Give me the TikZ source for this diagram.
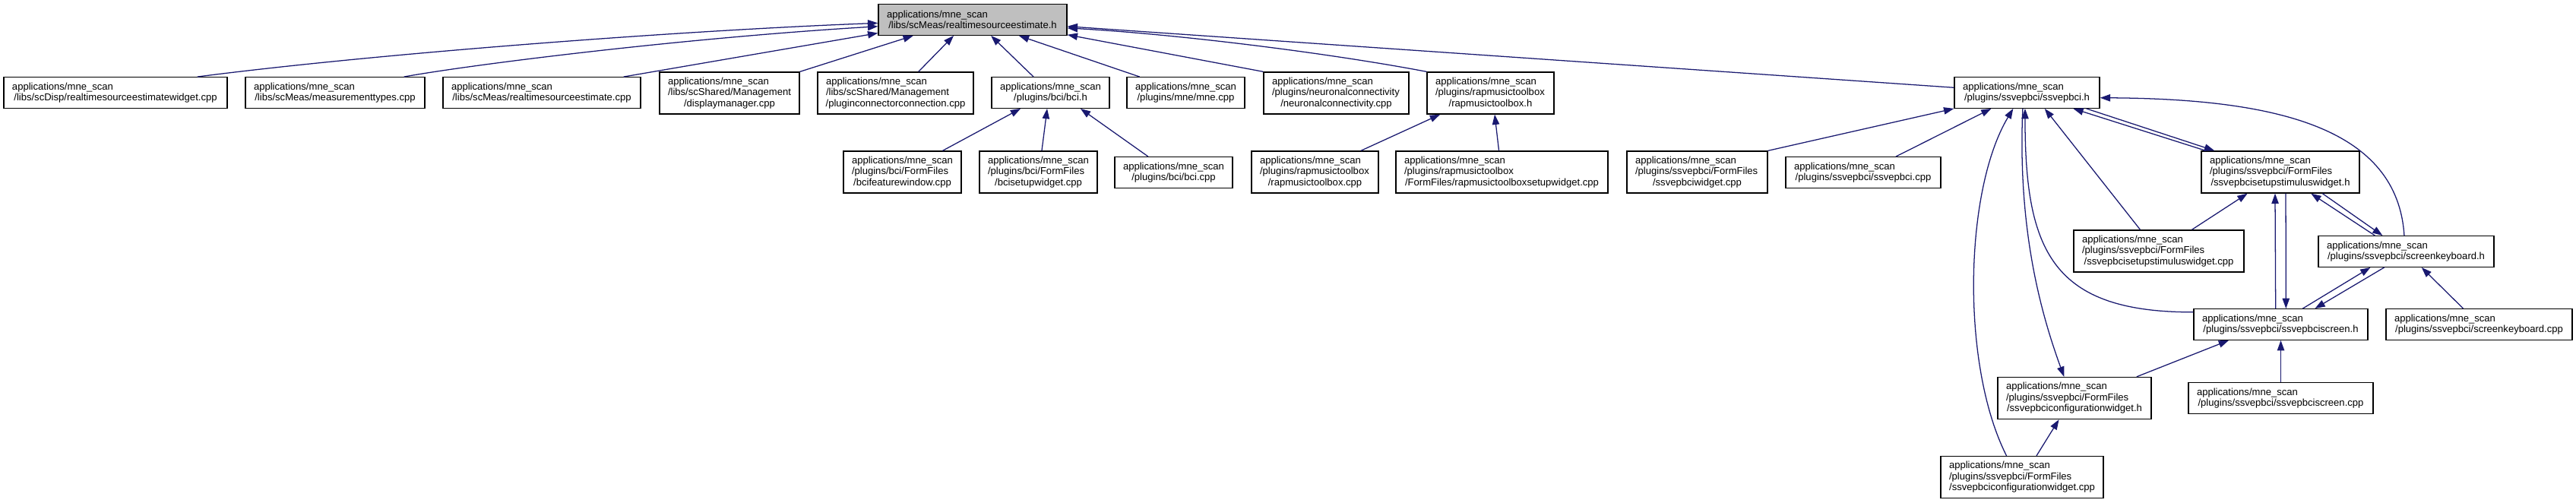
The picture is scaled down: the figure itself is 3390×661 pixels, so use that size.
\documentclass[tikz,border=0pt]{standalone}
\usepackage{fontspec}
\setmainfont{Liberation Sans}
\usetikzlibrary{arrows.meta}
\definecolor{edgeNavy}{RGB}{25,25,112}
\definecolor{rootGray}{RGB}{191,191,191}
\newcommand{\lastln}[1]{\makebox[\linewidth]{#1}}
\hyphenpenalty=10000
\exhyphenpenalty=10000

\begin{document}
\begin{tikzpicture}[x=0.75pt,y=-0.75pt,
    box/.style={draw=black,line width=1pt,fill=white,align=left,inner xsep=8.25pt,inner ysep=0pt,
      minimum height=30.4pt,font=\fontsize{9.8}{10.8}\selectfont},
    tallbox/.style={box,minimum height=41.25pt},
    arrow/.style={draw=edgeNavy,line width=0.95pt,-{Triangle[length=10pt,width=7pt]}}
  ]
  \path[use as bounding box,fill=white] (0,0) rectangle (3390,661);

  \node[box,fill=rootGray,text width=169.5pt] (main) at (1280,26) {applications/mne\_scan\\\lastln{/libs/scMeas/realtimesourceestimate.h}};

  \node[box,text width=204pt] (rsew) at (152,122) {applications/mne\_scan\\\lastln{/libs/scDisp/realtimesourceestimatewidget.cpp}};
  \node[box,text width=160.5pt] (mtypes) at (441,122) {applications/mne\_scan\\\lastln{/libs/scMeas/measurementtypes.cpp}};
  \node[box,text width=178.5pt] (rsecpp) at (713,122) {applications/mne\_scan\\\lastln{/libs/scMeas/realtimesourceestimate.cpp}};
  \node[tallbox,text width=121.5pt] (dispmgr) at (960,122.5) {applications/mne\_scan\\/libs/scShared/Management\\\lastln{/displaymanager.cpp}};
  \node[tallbox,text width=137.25pt] (plugconn) at (1178.5,122.5) {applications/mne\_scan\\/libs/scShared/Management\\\lastln{/pluginconnectorconnection.cpp}};
  \node[box,text width=99.75pt] (bcih) at (1382.5,122) {applications/mne\_scan\\\lastln{/plugins/bci/bci.h}};
  \node[box,text width=99.75pt] (mnecpp) at (1560.5,122) {applications/mne\_scan\\\lastln{/plugins/mne/mne.cpp}};
  \node[tallbox,text width=126.75pt] (neuro) at (1758.5,122.5) {applications/mne\_scan\\/plugins/neuronalconnectivity\\\lastln{/neuronalconnectivity.cpp}};
  \node[tallbox,text width=108.75pt] (rapmh) at (1961.5,122.5) {applications/mne\_scan\\/plugins/rapmusictoolbox\\\lastln{/rapmusictoolbox.h}};
  \node[box,text width=126.75pt] (ssvh) at (2667.5,122) {applications/mne\_scan\\\lastln{/plugins/ssvepbci/ssvepbci.h}};

  \node[tallbox,text width=99.75pt] (bcifw) at (1187.5,226.5) {applications/mne\_scan\\/plugins/bci/FormFiles\\\lastln{/bcifeaturewindow.cpp}};
  \node[tallbox,text width=99.75pt] (bcisw) at (1366.5,226.5) {applications/mne\_scan\\/plugins/bci/FormFiles\\\lastln{/bcisetupwidget.cpp}};
  \node[box,text width=99.75pt] (bcicpp) at (1544.5,227) {applications/mne\_scan\\\lastln{/plugins/bci/bci.cpp}};
  \node[tallbox,text width=108.75pt] (rapmcpp) at (1730.5,226.5) {applications/mne\_scan\\/plugins/rapmusictoolbox\\\lastln{/rapmusictoolbox.cpp}};
  \node[tallbox,text width=192.75pt] (rapmsw) at (1976.5,226.5) {applications/mne\_scan\\/plugins/rapmusictoolbox\\\lastln{/FormFiles/rapmusictoolboxsetupwidget.cpp}};
  \node[tallbox,text width=122.25pt] (ssvwidget) at (2233.5,226.5) {applications/mne\_scan\\/plugins/ssvepbci/FormFiles\\\lastln{/ssvepbciwidget.cpp}};
  \node[box,text width=136.5pt] (ssvcpp) at (2452,227) {applications/mne\_scan\\\lastln{/plugins/ssvepbci/ssvepbci.cpp}};
  \node[tallbox,text width=139.5pt] (stimh) at (3001,226.5) {applications/mne\_scan\\/plugins/ssvepbci/FormFiles\\\lastln{/ssvepbcisetupstimuluswidget.h}};

  \node[tallbox,text width=151.5pt] (stimcpp) at (2841,330.5) {applications/mne\_scan\\/plugins/ssvepbci/FormFiles\\\lastln{/ssvepbcisetupstimuluswidget.cpp}};
  \node[box,text width=156.75pt] (skbh) at (3166.5,331) {applications/mne\_scan\\\lastln{/plugins/ssvepbci/screenkeyboard.h}};

  \node[box,text width=155.25pt] (screenh) at (3001.5,427) {applications/mne\_scan\\\lastln{/plugins/ssvepbci/ssvepbciscreen.h}};
  \node[box,text width=167.25pt] (skbcpp) at (3262.5,427) {applications/mne\_scan\\\lastln{/plugins/ssvepbci/screenkeyboard.cpp}};

  \node[tallbox,text width=135pt] (confh) at (2730,524) {applications/mne\_scan\\/plugins/ssvepbci/FormFiles\\\lastln{/ssvepbciconfigurationwidget.h}};
  \node[box,text width=165.75pt] (screencpp) at (3001.5,524) {applications/mne\_scan\\\lastln{/plugins/ssvepbci/ssvepbciscreen.cpp}};

  \node[tallbox,text width=144pt] (confcpp) at (2661,628) {applications/mne\_scan\\/plugins/ssvepbci/FormFiles\\\lastln{/ssvepbciconfigurationwidget.cpp}};

  \draw[arrow] (rsew.11) .. controls (500,70) and (900,40) .. (main.182);
  \draw[arrow] (mtypes.13) .. controls (620,85) and (900,50) .. (main.184);
  \draw[arrow] (rsecpp.11) -- (main.188);
  \draw[arrow] (dispmgr.north east) -- (main.195);
  \draw[arrow] (plugconn.43) -- (main.220);
  \draw[arrow] (bcih.137) -- (main.319);
  \draw[arrow] (mnecpp.161) -- (main.341);
  \draw[arrow] (neuro.north west) -- (main.351);
  \draw[arrow] (rapmh.north west) .. controls (1750,70) and (1550,45) .. (main.355);
  \draw[arrow] (ssvh.176) -- (main.356);

  \draw[arrow] (bcifw.28) -- (bcih.208);
  \draw[arrow] (bcisw.81) -- (bcih.258);
  \draw[arrow] (bcicpp.148) -- (bcih.332);
  \draw[arrow] (rapmcpp.25) -- (rapmh.203);
  \draw[arrow] (rapmsw.98) -- (rapmh.281);

  \draw[arrow] (ssvwidget.north east) -- (ssvh.south west);
  \draw[arrow] (ssvcpp.26) -- (ssvh.204);
  \draw[arrow] (confcpp.126) .. controls (2580,480) and (2585,250) .. (ssvh.229);
  \draw[arrow] (ssvh.255) .. controls (2655,300) and (2685,410) .. (confh.116);
  \draw[arrow] (screenh.172) .. controls (2700,411) and (2665,330) .. (ssvh.263);
  \draw[arrow] (stimcpp.131) -- (ssvh.318);
  \draw[arrow] (stimh.164) -- (ssvh.341);
  \draw[arrow] (ssvh.345) -- (stimh.162);
  \draw[arrow] (skbh.97) .. controls (3155,170) and (3000,130) .. (ssvh.356);

  \draw[arrow] (stimcpp.33) -- (stimh.213);
  \draw[arrow] (stimh.284) -- (screenh.72);
  \draw[arrow] (screenh.108) -- (stimh.256);
  \draw[arrow] (skbh.153) -- (stimh.325);
  \draw[arrow] (stimh.333) -- (skbh.146);
  \draw[arrow] (screenh.36) -- (skbh.204);
  \draw[arrow] (skbh.216) -- (screenh.25);
  \draw[arrow] (skbcpp.135) -- (skbh.314);
  \draw[arrow] (screencpp.north) -- (screenh.south);
  \draw[arrow] (confh.19) -- (screenh.197);
  \draw[arrow] (confcpp.56) -- (confh.234);
\end{tikzpicture}
\end{document}
